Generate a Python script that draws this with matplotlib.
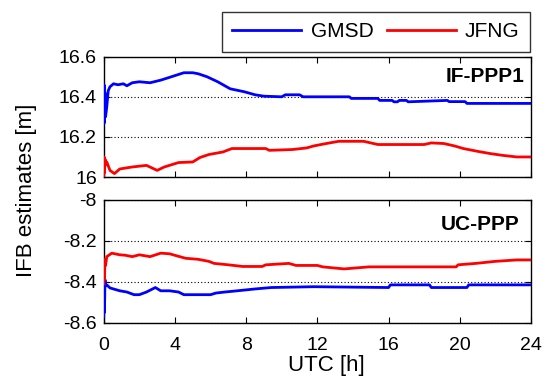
import matplotlib
matplotlib.use("Agg")
import matplotlib.pyplot as plt

plt.rcParams['font.family'] = ['Liberation Sans', 'DejaVu Sans']
plt.rcParams['axes.unicode_minus'] = False

# ---- data ----
series_names = ["GMSD", "JFNG"]
series_colors = ["#0000ff", "#ff0000"]

t_if_gmsd = [0, 0.02, 0.04, 0.07, 0.1, 0.17, 0.25, 0.35, 0.55, 0.8, 1.1, 1.3, 1.6, 2.0, 2.6,
             3.2, 3.8, 4.5, 5.0, 5.3, 5.8, 6.4, 7.1, 7.9, 8.5, 9.0, 10.0, 10.2, 11.0, 11.2,
             13.8, 13.9, 15.4, 15.5, 16.2, 16.3, 16.5, 16.6, 17.0, 17.1, 19.3, 19.4, 20.3, 20.4, 24]
v_if_gmsd = [16.30, 16.46, 16.27, 16.42, 16.30, 16.35, 16.43, 16.45, 16.465, 16.46, 16.465, 16.455, 16.47, 16.475, 16.47,
             16.483, 16.50, 16.52, 16.52, 16.515, 16.50, 16.475, 16.44, 16.425, 16.41, 16.403, 16.40, 16.41, 16.41, 16.40,
             16.40, 16.392, 16.392, 16.382, 16.382, 16.375, 16.375, 16.382, 16.382, 16.375, 16.382, 16.376, 16.376, 16.367, 16.367]

t_if_jfng = [0, 0.02, 0.04, 0.07, 0.1, 0.17, 0.35, 0.6, 0.9, 1.6, 2.4, 3.0, 3.4, 4.2, 5.0, 5.4, 5.9, 6.7,
             7.2, 9.1, 9.3, 10.6, 11.4, 11.8, 12.5, 13.2, 14.6, 15.4, 18.0, 18.4, 19.1, 19.7, 20.2, 21.0,
             21.7, 22.4, 23.2, 24]
v_if_jfng = [16.00, 16.10, 16.02, 16.09, 16.06, 16.075, 16.033, 16.017, 16.04, 16.05, 16.058, 16.033, 16.05, 16.072,
             16.075, 16.097, 16.112, 16.125, 16.142, 16.142, 16.133, 16.137, 16.145, 16.155, 16.167, 16.178, 16.178,
             16.162, 16.162, 16.17, 16.167, 16.155, 16.142, 16.128, 16.117, 16.108, 16.10, 16.10]

t_uc_gmsd = [0, 0.02, 0.04, 0.07, 0.1, 0.17, 0.35, 0.9, 1.3, 1.7, 2.0, 2.4, 2.9, 3.2, 3.7, 4.2, 4.5, 6.0,
             6.3, 6.8, 7.5, 8.5, 9.4, 11.8, 16.0, 16.1, 18.3, 18.4, 20.4, 20.5, 24]
v_uc_gmsd = [-8.57, -8.40, -8.55, -8.39, -8.42, -8.415, -8.43, -8.444, -8.45, -8.463, -8.463, -8.45, -8.428,
             -8.444, -8.444, -8.45, -8.463, -8.463, -8.455, -8.45, -8.444, -8.435, -8.428, -8.424, -8.428,
             -8.415, -8.415, -8.428, -8.428, -8.415, -8.415]

t_uc_jfng = [0, 0.02, 0.04, 0.07, 0.1, 0.17, 0.45, 0.9, 1.2, 1.6, 2.0, 2.6, 3.2, 3.7, 4.1, 4.6, 5.3, 5.9,
             6.2, 7.0, 7.8, 8.9, 9.1, 10.4, 10.8, 12.0, 12.3, 13.5, 14.9, 19.8, 19.9, 20.9, 22.0, 23.2, 24]
v_uc_jfng = [-8.41, -8.30, -8.39, -8.29, -8.32, -8.277, -8.26, -8.268, -8.27, -8.277, -8.268, -8.277, -8.26,
             -8.263, -8.273, -8.285, -8.29, -8.30, -8.31, -8.317, -8.325, -8.325, -8.317, -8.31, -8.32, -8.32,
             -8.327, -8.337, -8.327, -8.327, -8.317, -8.31, -8.30, -8.293, -8.293]

x_ticks = [0, 4, 8, 12, 16, 20, 24]
if_yticks = [16, 16.2, 16.4, 16.6]
if_ylabels = ["16", "16.2", "16.4", "16.6"]
uc_yticks = [-8.6, -8.4, -8.2, -8]
uc_ylabels = ["-8.6", "-8.4", "-8.2", "-8"]
panel_titles = ["IF-PPP1", "UC-PPP"]

# ---- figure ----
W, H = 547, 385
fig = plt.figure(figsize=(W / 100, H / 100), dpi=100)

def ax_rect(x0, x1, y0, y1):
    return [x0 / W, 1 - y1 / H, (x1 - x0) / W, (y1 - y0) / H]

ax1 = fig.add_axes(ax_rect(103.75, 531, 56.7, 177))
ax2 = fig.add_axes(ax_rect(103.75, 531, 200, 322.7))

title_pos = [(0.984, 0.787), (0.974, 0.758)]

lines = []
for i, (ax, data, yt, yl, title) in enumerate([
    (ax1, [(t_if_gmsd, v_if_gmsd), (t_if_jfng, v_if_jfng)], if_yticks, if_ylabels, panel_titles[0]),
    (ax2, [(t_uc_gmsd, v_uc_gmsd), (t_uc_jfng, v_uc_jfng)], uc_yticks, uc_ylabels, panel_titles[1]),
]):
    for (t, v), c, n in zip(data, series_colors, series_names):
        ln, = ax.plot(t, v, color=c, lw=2.0, label=n, zorder=3)
        if i == 0:
            lines.append(ln)
    ax.set_xlim(0, 24)
    ax.set_ylim(yt[0], yt[-1])
    ax.set_xticks(x_ticks)
    ax.set_yticks(yt)
    ax.set_yticklabels(yl)
    ax.yaxis.grid(True, linestyle=(0, (1, 2)), color='k', lw=0.8)
    ax.tick_params(direction='in', top=True, right=True, length=4, width=0.8,
                   labelsize=14)
    ax.tick_params(axis='y', pad=5)
    ax.tick_params(axis='x', pad=10)
    for s in ax.spines.values():
        s.set_linewidth(1.0)
    ax.text(title_pos[i][0], title_pos[i][1], title, transform=ax.transAxes,
            ha='right', va='baseline', fontsize=15, fontweight='bold')

ax1.set_xticklabels([])
ax2.set_xticklabels([str(x) for x in x_ticks])

fig.text(326 / W, 1 - 365 / H, "UTC [h]", ha='center', va='center', fontsize=16)
fig.text(27 / W, 1 - 190 / H, "IFB estimates [m]", ha='center', va='center',
         rotation=90, fontsize=16)

leg = fig.legend(lines, series_names, loc='upper right',
                 bbox_to_anchor=(530 / W, 1 - 11.7 / H), ncol=2, fontsize=15,
                 frameon=True, fancybox=False, edgecolor='k', handlelength=3.3,
                 handletextpad=0.45, columnspacing=0.65, borderpad=0.5,
                 borderaxespad=0)
leg.get_frame().set_linewidth(1.0)
for l in leg.get_lines():
    l.set_linewidth(2)

fig.savefig("out.png", dpi=100)
